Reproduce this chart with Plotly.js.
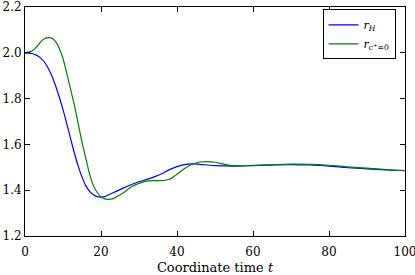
<!DOCTYPE html>
<html>
<head>
<meta charset="utf-8">
<script src="https://cdn.plot.ly/plotly-3.0.1.min.js"></script>
<style>html,body{margin:0;padding:0;background:#fff}#chart{width:415px;height:275px}</style>
</head>
<body>
<div id="chart"></div>
<script>
const tBlue = [0,1,2,3,4,5,6,7,8,9,10,11,12,13,14,15,16,17,18,19,20,21,22,24,26,28,30,32,34,36,38,40,42,44,46,48,50,55,60,65,70,75,80,85,90,95,100];
const rH = [2.000,1.999,1.996,1.99,1.979,1.962,1.936,1.902,1.858,1.808,1.752,1.69,1.625,1.562,1.505,1.458,1.42,1.395,1.38,1.372,1.37,1.372,1.38,1.395,1.41,1.425,1.437,1.447,1.458,1.472,1.49,1.503,1.512,1.515,1.513,1.51,1.507,1.505,1.508,1.511,1.512,1.51,1.505,1.498,1.493,1.489,1.485];
const tGreen = [0,1,2,3,4,5,6,7,8,9,10,11,12,13,14,15,16,17,18,19,20,21,22,23,24,26,28,30,32,34,36,38,40,42,44,46,48,50,52,55,60,65,70,75,80,85,90,95,100];
const rC = [2.000,2.003,2.01,2.025,2.045,2.06,2.066,2.064,2.05,2.02,1.975,1.91,1.84,1.77,1.69,1.61,1.54,1.47,1.42,1.39,1.37,1.362,1.36,1.362,1.37,1.39,1.415,1.43,1.44,1.442,1.442,1.448,1.47,1.495,1.513,1.523,1.525,1.522,1.515,1.507,1.507,1.511,1.514,1.513,1.509,1.502,1.496,1.49,1.486];
const xTicks = [0,20,40,60,80,100];
const yTicks = [1.2,1.4,1.6,1.8,2.0,2.2];
const yTickText = ['1.2','1.4','1.6','1.8','2.0','2.2'];
const names = ['<i>r</i><sub><i>H</i></sub>', '<i>r</i><sub><i>c</i><sup>+</sup>=0</sub>'];

const fam = "DejaVu Serif";
const font = {family: fam, size: 13, color: '#000'};
const tickFont = {family: fam, size: 12, color: '#000'};
const traces = [
  {x: tBlue, y: rH, name: names[0], mode: 'lines', line: {color: '#0000ff', width: 1.2, shape: 'spline'}},
  {x: tGreen, y: rC, name: names[1], mode: 'lines', line: {color: '#008000', width: 1.2, shape: 'spline'}}
];
const axisCommon = {showline: true, linecolor: '#000', linewidth: 1, mirror: 'allticks', ticks: 'inside', ticklen: 5, tickwidth: 1, tickcolor: '#000', showgrid: false, zeroline: false, tickfont: tickFont, ticklabeloverflow: 'allow', automargin: false};
const layout = {
  width: 415, height: 275,
  margin: {l: 25, r: 10, t: 7, b: 39},
  paper_bgcolor: '#fff', plot_bgcolor: '#fff',
  font: font,
  showlegend: true,
  legend: {x: 0.975, y: 0.99, xanchor: 'right', yanchor: 'top', bordercolor: '#000', borderwidth: 1, bgcolor: '#fff', font: {family: fam, size: 11, color: '#000'}, itemwidth: 30, tracegroupgap: 0},
  xaxis: Object.assign({}, axisCommon, {range: [0, 100], tickvals: xTicks, ticktext: xTicks.map(String), ticklabelstandoff: 5, title: {text: 'Coordinate time <i>t</i>', font: font, standoff: 4}}),
  yaxis: Object.assign({}, axisCommon, {range: [1.2, 2.2], tickvals: yTicks, ticktext: yTickText})
};
Plotly.newPlot('chart', traces, layout, {displayModeBar: false, staticPlot: true});
</script>
</body>
</html>
